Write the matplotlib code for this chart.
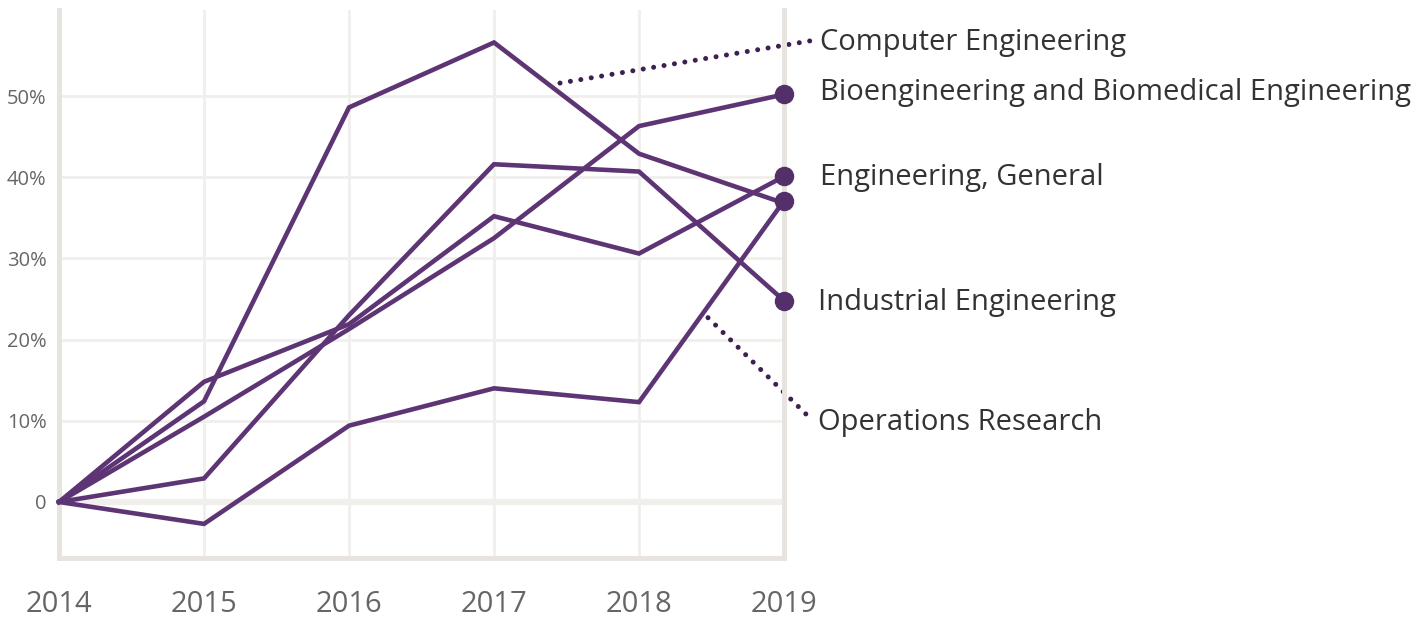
import matplotlib.pyplot as plt
import numpy as np

plt.rcParams["font.family"] = ["Open Sans", "DejaVu Sans"]

years = [2014, 2015, 2016, 2017, 2018, 2019]

computer_eng = [0, 12.4, 48.6, 56.6, 42.9, 36.8]
bioeng = [0, 10.5, 21.3, 32.5, 46.3, 50.2]
eng_general = [0, 14.8, 21.9, 35.2, 30.6, 40.1]
industrial_eng = [0, 2.9, 23.0, 41.6, 40.7, 24.8]
operations = [0, -2.7, 9.4, 14.0, 12.3, 37.1]

series = [computer_eng, bioeng, eng_general, industrial_eng, operations]

y_ticks = [0, 10, 20, 30, 40, 50]
y_tick_labels = ["0", "10%", "20%", "30%", "40%", "50%"]

LINE = "#5e3574"
DOT = "#54306a"
LEADER = "#3e2050"
AXIS = "#e7e3de"
GRID = "#f1efec"
TEXT = "#333333"
TICK = "#666666"

fig = plt.figure(figsize=(14.19, 6.18), dpi=100)
ax = fig.add_axes([0.0416, 0.0971, 0.5109, 0.8867])
ax.set_xlim(2014, 2019)
ax.set_ylim(-6.9, 60.6)

# grid
for y in y_ticks:
    ax.axhline(y, color=GRID, linewidth=4.5 if y == 0 else 2, zorder=0,
               xmin=0, xmax=0.995)
for x in years[1:-1]:
    ax.axvline(x, color=GRID, linewidth=2, zorder=0)

ax.spines["top"].set_visible(False)
for side in ("left", "right", "bottom"):
    ax.spines[side].set_color(AXIS)
    ax.spines[side].set_linewidth(3.5)

for vals in series:
    ax.plot(years, vals, color=LINE, linewidth=3.3, solid_joinstyle="miter",
            zorder=3, clip_on=False)

# end dots (Computer Engineering has none)
for vals in [bioeng, eng_general, industrial_eng, operations]:
    ax.plot(years[-1], vals[-1], "o", color=DOT, markersize=13, zorder=4,
            clip_on=False)

ax.set_xticks(years)
ax.set_xticklabels([str(y) for y in years], fontsize=21, color=TICK)
ax.set_yticks(y_ticks)
ax.set_yticklabels(y_tick_labels, fontsize=14.5, color=TICK)
ax.tick_params(axis="x", length=0, pad=23)
ax.tick_params(axis="y", length=0, pad=9)

# series labels (baseline placed)
labels = [
    ("Computer Engineering", 2019.248, 55.7),
    ("Bioengineering and Biomedical Engineering", 2019.248, 49.5),
    ("Engineering, General", 2019.248, 39.0),
    ("Industrial Engineering", 2019.235, 23.6),
    ("Operations Research", 2019.235, 8.9),
]
for text, lx, ly in labels:
    ax.text(lx, ly, text, fontsize=21, color=TEXT, va="baseline", ha="left",
            clip_on=False)

# dotted leaders
leaders = [
    ([2017.455, 2019.214], [51.6, 56.9]),
    ([2018.476, 2019.193], [22.7, 10.1]),
]
for lx, ly in leaders:
    ax.plot(lx, ly, color=LEADER, linewidth=3.6, linestyle=(0, (0.01, 2.1)),
            dash_capstyle="round", clip_on=False, zorder=2)

fig.savefig("out.png", dpi=100)
